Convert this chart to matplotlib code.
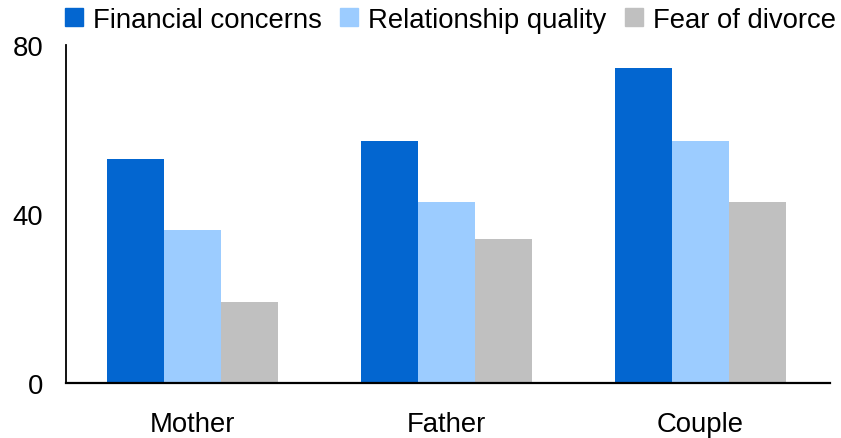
import numpy as np
import matplotlib.pyplot as plt
from matplotlib.lines import Line2D

# data
groups = ["Mother", "Father", "Couple"]
series = ["Financial concerns", "Relationship quality", "Fear of divorce"]
financial = [53, 57.3, 74.6]
relationship = [36.2, 42.8, 57.3]
divorce = [19.2, 34.1, 42.8]
colors = ["#0366D0", "#9CCCFF", "#C0C0C0"]

plt.rcParams["font.family"] = ["Liberation Sans", "DejaVu Sans"]

fig = plt.figure(figsize=(8.41, 4.39), dpi=100)
ax = fig.add_axes([0.0779, 0.1253, 0.9091, 0.7699])

x = np.arange(len(groups))
w = 0.224
for i, vals in enumerate([financial, relationship, divorce]):
    ax.bar(x + (i - 1) * w, vals, width=w, color=colors[i], zorder=2)

ax.set_xlim(-0.5, 2.51)
ax.set_ylim(0, 80)
ax.set_yticks([0, 40, 80])
ax.set_xticks(x)
ax.set_xticklabels(groups)
ax.tick_params(axis="both", length=0, labelsize=19.8)
ax.tick_params(axis="y", pad=16)
ax.tick_params(axis="x", pad=20)
for s in ["top", "right"]:
    ax.spines[s].set_visible(False)
ax.spines["left"].set_linewidth(1.3)
ax.spines["bottom"].set_linewidth(1.6)

handles = [Line2D([], [], marker="s", linestyle="", markersize=13,
                  color=c) for c in colors]
fig.legend(handles, series, loc="center left", bbox_to_anchor=(0.0767, 0.952),
           ncol=3, frameon=False, fontsize=19.8, handlelength=0.68,
           handletextpad=0.35, columnspacing=0.66, borderpad=0, borderaxespad=0)

fig.savefig("out.png", dpi=100)
